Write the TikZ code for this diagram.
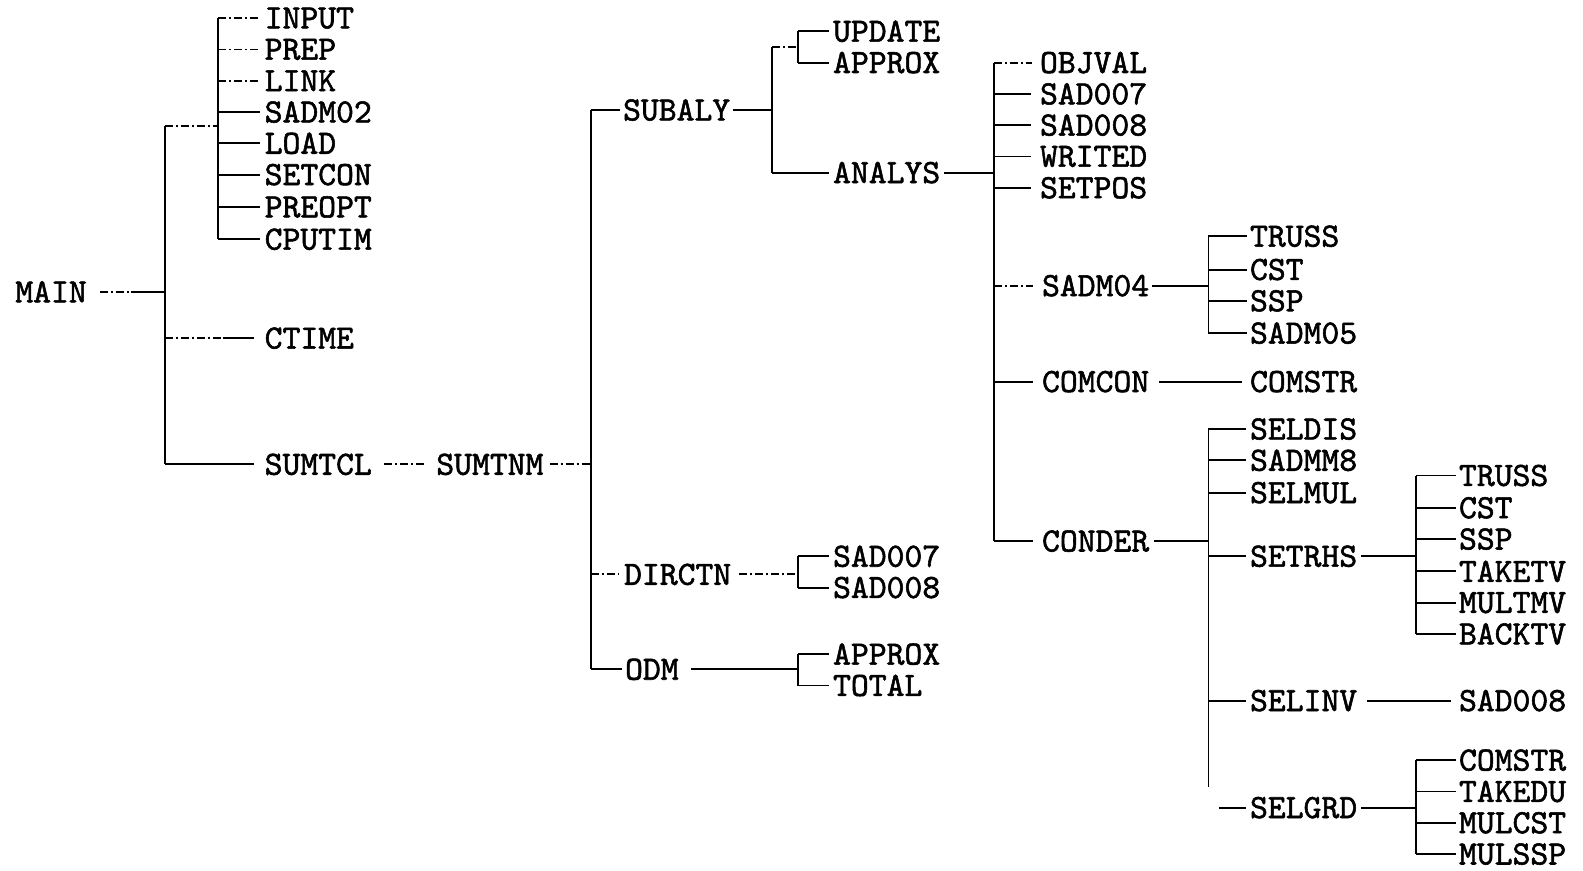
\documentclass[tikz,border=0pt]{standalone}
\usepackage{fontspec}
\newfontfamily\lblfam{lmmono10-regular.otf}[FakeBold=1.6]
\newcommand{\lblfont}{\lblfam\fontsize{34}{34}\selectfont}
\begin{document}
\begin{tikzpicture}[x=1.0096pt,y=-1.0096pt,
  lbl/.style={anchor=west,inner sep=0pt,font=\lblfont},
  ln/.style={line width=1.9pt,line cap=butt},
  dsh/.style={ln,dash pattern=on 8pt off 3pt on 2pt off 3pt}]
\useasboundingbox[fill=white] (0,0) rectangle (1568,862);
% ---- nodes ----
\node[lbl] (main) at (15,289) {MAIN};
\node[lbl] (input) at (262,18) {INPUT};
\node[lbl] (prep) at (262,49) {PREP};
\node[lbl] (link) at (262,80) {LINK};
\node[lbl] (sadm02) at (262,111) {SADM02};
\node[lbl] (load) at (262,142) {LOAD};
\node[lbl] (setcon) at (262,173) {SETCON};
\node[lbl] (preopt) at (262,205) {PREOPT};
\node[lbl] (cputim) at (262,237) {CPUTIM};
\node[lbl] (ctime) at (262,335) {CTIME};
\node[lbl] (sumtcl) at (262,460) {SUMTCL};
\node[lbl] (sumtnm) at (432,460) {SUMTNM};
\node[lbl] (subaly) at (617,109) {SUBALY};
\node[lbl] (dirctn) at (618,569) {DIRCTN};
\node[lbl] (odm) at (619,663) {ODM};
\node[lbl] (update) at (825,31) {UPDATE};
\node[lbl] (approxa) at (825,62) {APPROX};
\node[lbl] (analys) at (825,171) {ANALYS};
\node[lbl] (objval) at (1030,62) {OBJVAL};
\node[lbl] (sadsa) at (1030,93) {SAD007};
\node[lbl] (sadea) at (1030,124) {SAD008};
\node[lbl] (writed) at (1030,155) {WRITED};
\node[lbl] (setpos) at (1030,186) {SETPOS};
\node[lbl] (sadm04) at (1032,283) {SADM04};
\node[lbl] (trussa) at (1238,234) {TRUSS};
\node[lbl] (csta) at (1238,267) {CST};
\node[lbl] (sspa) at (1238,298) {SSP};
\node[lbl] (sadm05) at (1238,330) {SADM05};
\node[lbl] (comcon) at (1032,378) {COMCON};
\node[lbl] (comstra) at (1238,378) {COMSTR};
\node[lbl] (conder) at (1032,536) {CONDER};
\node[lbl] (seldis) at (1238,425) {SELDIS};
\node[lbl] (sadmm8) at (1238,456) {SADMM8};
\node[lbl] (selmul) at (1238,488) {SELMUL};
\node[lbl] (setrhs) at (1238,551) {SETRHS};
\node[lbl] (selinv) at (1238,694) {SELINV};
\node[lbl] (selgrd) at (1238,800) {SELGRD};
\node[lbl] (trussb) at (1445,471) {TRUSS};
\node[lbl] (cstb) at (1445,503) {CST};
\node[lbl] (sspb) at (1445,534) {SSP};
\node[lbl] (taketv) at (1445,566) {TAKETV};
\node[lbl] (multmv) at (1445,597) {MULTMV};
\node[lbl] (backtv) at (1445,628) {BACKTV};
\node[lbl] (sadec) at (1445,694) {SAD008};
\node[lbl] (comstrb) at (1445,753) {COMSTR};
\node[lbl] (takedu) at (1445,784) {TAKEDU};
\node[lbl] (mulcst) at (1445,815) {MULCST};
\node[lbl] (mulssp) at (1445,846) {MULSSP};
\node[lbl] (sadsb) at (825,551) {SAD007};
\node[lbl] (sadeb) at (825,582) {SAD008};
\node[lbl] (approxb) at (825,648) {APPROX};
\node[lbl] (total) at (825,679) {TOTAL};
% ---- bracket coordinates ----
\coordinate (b0t) at (163,125); \coordinate (b0b) at (163,460);
\coordinate (b1t) at (216,18);  \coordinate (b1b) at (216,237);
\coordinate (b2t) at (585,109); \coordinate (b2b) at (585,663);
\coordinate (b3t) at (765,47);  \coordinate (b3b) at (765,171);
\coordinate (b4t) at (790,31);  \coordinate (b4b) at (790,62);
\coordinate (b5t) at (985,62);  \coordinate (b5b) at (985,536);
\coordinate (b6t) at (1197,234); \coordinate (b6b) at (1197,330);
\coordinate (b7t) at (1197,425); \coordinate (b7b) at (1197,780);
\coordinate (b8t) at (1403,471); \coordinate (b8b) at (1403,628);
\coordinate (b9t) at (1403,753); \coordinate (b9b) at (1403,846);
\coordinate (b10t) at (790,551); \coordinate (b10b) at (790,582);
\coordinate (b11t) at (790,648); \coordinate (b11b) at (790,679);
\coordinate (sgs) at (1207,800);
% ---- verticals ----
\foreach \b in {b0,b1,b2,b3,b4,b5,b6,b7,b8,b9,b10,b11}
  \draw[ln] (\b t) -- (\b b);
% ---- MAIN level ----
\draw[dsh] ([xshift=13pt]main.east) -- ([xshift=-34pt]main.east -| b0t);
\draw[ln] ([xshift=-34pt]main.east -| b0t) -- (main.east -| b0t);
\draw[dsh] (b0t) -- (b0t -| b1t);
\draw[dsh] (ctime.west -| b0t) -- ([xshift=-42pt]ctime.west);
\draw[ln] ([xshift=-42pt]ctime.west) -- ([xshift=-11pt]ctime.west);
\draw[ln] (sumtcl.west -| b0t) -- ([xshift=-11pt]sumtcl.west);
\foreach \n in {input,prep,link}
  \draw[dsh] (\n.west -| b1t) -- ([xshift=-4pt]\n.west);
\foreach \n in {sadm02,load,setcon,preopt,cputim}
  \draw[ln] (\n.west -| b1t) -- ([xshift=-5pt]\n.west);
% ---- SUMTCL / SUMTNM ----
\draw[dsh] ([xshift=12pt]sumtcl.east) -- ([xshift=-10pt]sumtnm.west);
\draw[dsh] ([xshift=6pt]sumtnm.east) -- (sumtnm.east -| b2t);
\draw[ln] (subaly.west -| b2t) -- ([xshift=-3pt]subaly.west);
\draw[dsh] (dirctn.west -| b2t) -- ([xshift=-6pt]dirctn.west);
\draw[ln] (odm.west -| b2t) -- ([xshift=-3pt]odm.west);
% ---- SUBALY ----
\draw[ln] ([xshift=3pt]subaly.east) -- (subaly.east -| b3t);
\draw[dsh] (b3t) -- (b3t -| b4t);
\draw[ln] (analys.west -| b3t) -- ([xshift=-4pt]analys.west);
\foreach \n in {update,approxa}
  \draw[ln] (\n.west -| b4t) -- ([xshift=-4pt]\n.west);
% ---- ANALYS ----
\draw[ln] ([xshift=4pt]analys.east) -- (analys.east -| b5t);
\draw[dsh] (objval.west -| b5t) -- ([xshift=-8pt]objval.west);
\draw[dsh] (sadm04.west -| b5t) -- ([xshift=-9pt]sadm04.west);
\foreach \n in {sadsa,sadea,writed,setpos,comcon,conder}
  \draw[ln] (\n.west -| b5t) -- ([xshift=-9pt]\n.west);
% ---- SADM04 ----
\draw[ln] ([xshift=3pt]sadm04.east) -- (sadm04.east -| b6t);
\foreach \n in {trussa,csta,sspa,sadm05}
  \draw[ln] (\n.west -| b6t) -- ([xshift=-3pt]\n.west);
\draw[ln] ([xshift=10pt]comcon.east) -- ([xshift=-8pt]comstra.west);
% ---- CONDER ----
\draw[ln] ([xshift=5pt]conder.east) -- (conder.east -| b7t);
\foreach \n in {seldis,sadmm8,selmul,setrhs,selinv}
  \draw[ln] (\n.west -| b7t) -- ([xshift=-4pt]\n.west);
\draw[ln] (sgs) -- ([xshift=-4pt]selgrd.west);
% ---- SETRHS ----
\draw[ln] ([xshift=4pt]setrhs.east) -- (setrhs.east -| b8t);
\foreach \n in {trussb,cstb,sspb,taketv,multmv,backtv}
  \draw[ln] (\n.west -| b8t) -- ([xshift=-3pt]\n.west);
\draw[ln] ([xshift=10pt]selinv.east) -- ([xshift=-8pt]sadec.west);
% ---- SELGRD ----
\draw[ln] ([xshift=4pt]selgrd.east) -- (selgrd.east -| b9t);
\foreach \n in {comstrb,takedu,mulcst,mulssp}
  \draw[ln] (\n.west -| b9t) -- ([xshift=-3pt]\n.west);
% ---- DIRCTN / ODM ----
\draw[dsh] ([xshift=8pt]dirctn.east) -- (dirctn.east -| b10t);
\foreach \n in {sadsb,sadeb}
  \draw[ln] (\n.west -| b10t) -- ([xshift=-4pt]\n.west);
\draw[ln] ([xshift=12pt]odm.east) -- (odm.east -| b11t);
\foreach \n in {approxb,total}
  \draw[ln] (\n.west -| b11t) -- ([xshift=-4pt]\n.west);
\end{tikzpicture}
\end{document}
